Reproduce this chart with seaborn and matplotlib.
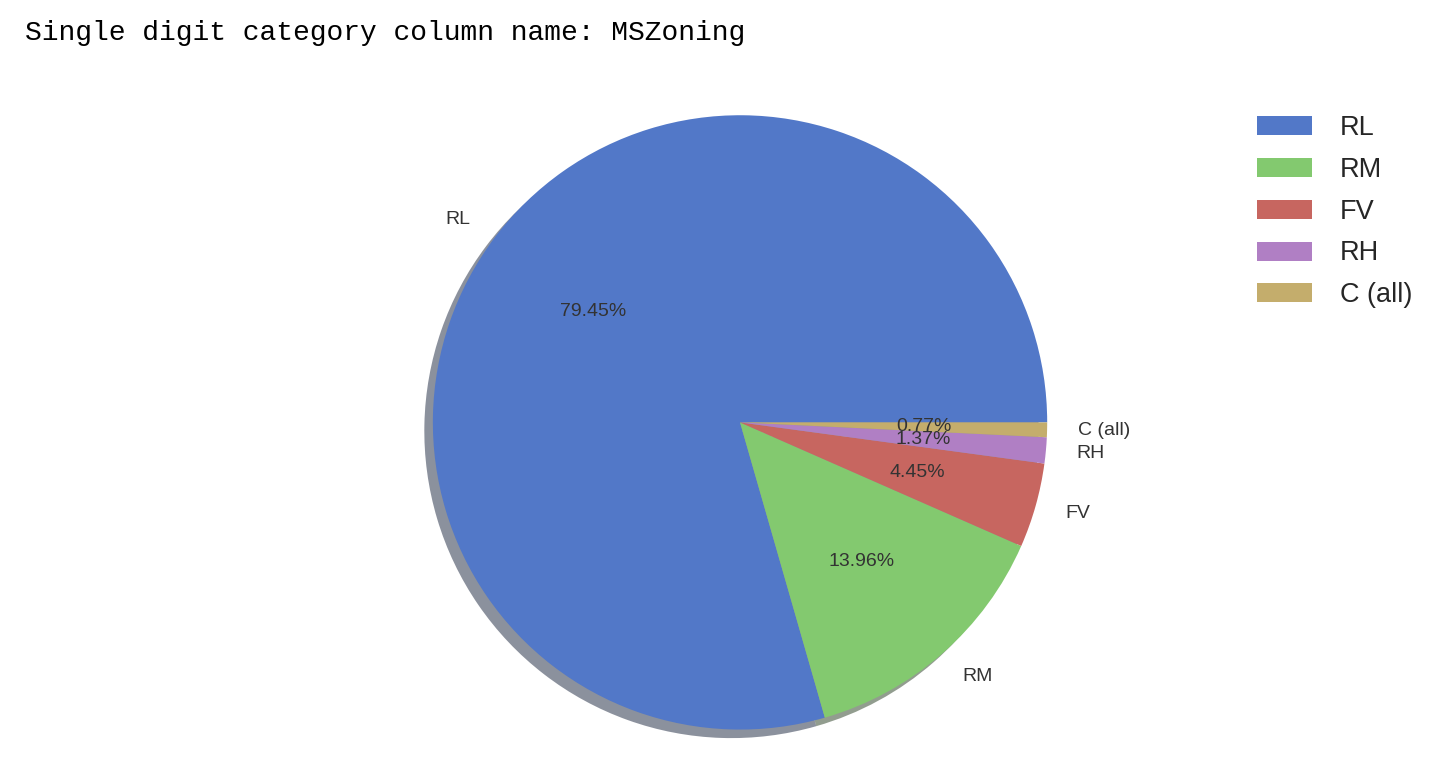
import matplotlib
matplotlib.use('agg')
import matplotlib.pyplot as plt
import seaborn as sns

# MSZoning value counts
zones = ["RL", "RM", "FV", "RH", "C (all)"]
counts = [928, 163, 52, 16, 9]
colors = ["#5278C8", "#83C96F", "#C76660", "#B07FC4", "#C4AD6C"]

sns.set_theme(style="white")
plt.rcParams['font.family'] = ['Liberation Sans', 'DejaVu Sans']
plt.rcParams['text.color'] = '0.15'

fig = plt.figure(figsize=(14.3, 7.68), dpi=100)
fig.text(25/1430, 1 - 40/768, "Single digit category column name: MSZoning",
         family=['Liberation Mono', 'DejaVu Sans Mono'], fontsize=20.2,
         color='black', va='baseline', ha='left')

ax = fig.add_axes([0.249, -0.05, 0.537, 1.0])
wedges, texts, autotexts = ax.pie(counts, labels=zones, colors=colors,
                                  autopct='%.2f%%', shadow=True,
                                  wedgeprops={'linewidth': 0},
                                  textprops={'fontsize': 14, 'color': '0.2'})

fig.legend(wedges, zones, loc='upper left', bbox_to_anchor=(1233/1430, 1 - 91/768),
           frameon=False, fontsize=19.5, labelspacing=0.58, handletextpad=1.05)

plt.savefig('out.png', dpi=100)
plt.close()
